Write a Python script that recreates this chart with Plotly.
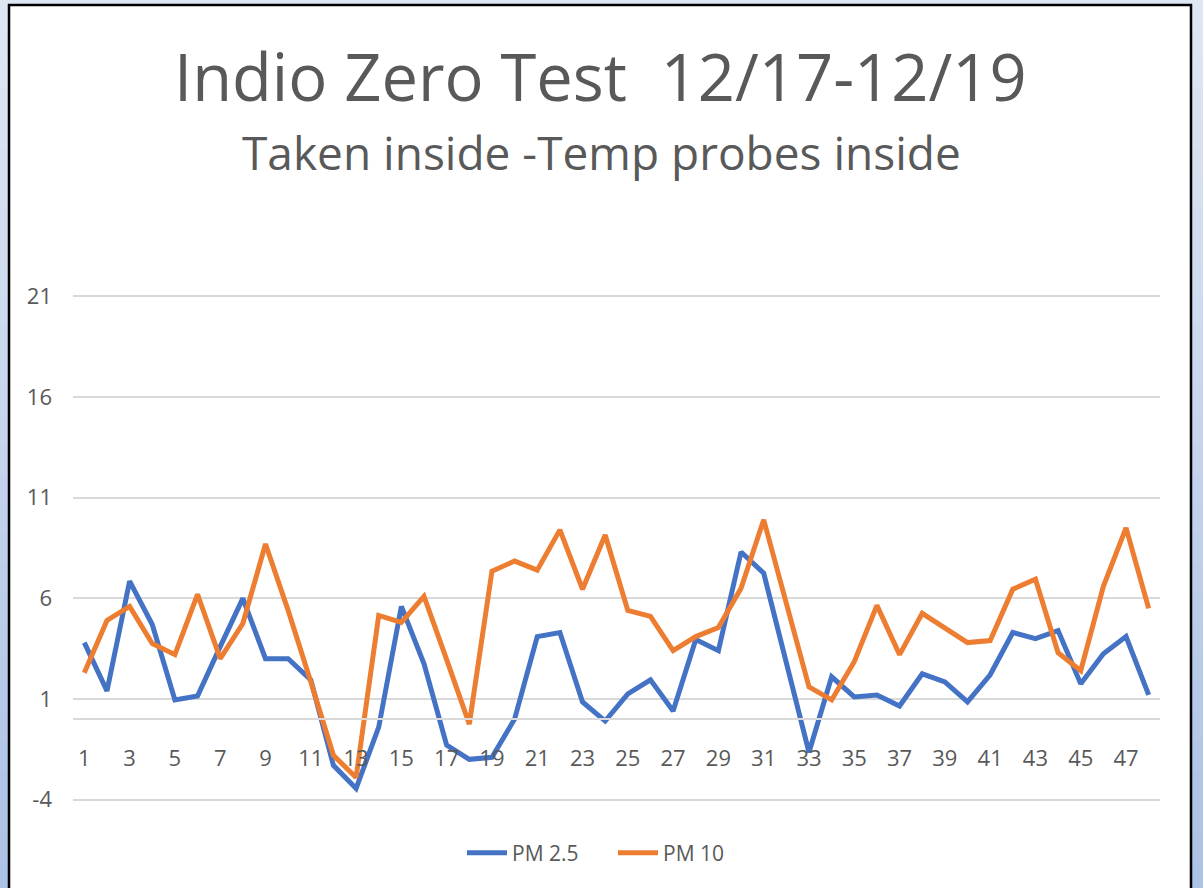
import plotly.graph_objects as go

# ---- data ----
hours = list(range(1, 49))
pm25 = [3.8, 1.4, 6.85, 4.7, 0.95, 1.15, 3.6, 6.0, 3.0, 3.0, 1.95, -2.3, -3.45, -0.4, 5.6, 2.75,
        -1.3, -2.0, -1.9, 0.0, 4.1, 4.3, 0.85, -0.1, 1.25, 1.95, 0.4, 3.95, 3.4, 8.3, 7.25, 2.8,
        -1.65, 2.1, 1.1, 1.2, 0.65, 2.25, 1.85, 0.85, 2.2, 4.3, 4.0, 4.4, 1.75, 3.25, 4.1, 1.2]
pm10 = [2.3, 4.9, 5.6, 3.75, 3.2, 6.2, 3.0, 4.75, 8.7, 5.4, 1.85, -1.8, -2.9, 5.15, 4.8, 6.1,
        2.95, -0.25, 7.35, 7.85, 7.4, 9.4, 6.45, 9.15, 5.4, 5.1, 3.4, 4.1, 4.55, 6.5, 9.9, 5.7,
        1.6, 0.95, 2.85, 5.65, 3.2, 5.25, 4.55, 3.8, 3.9, 6.45, 6.95, 3.3, 2.4, 6.6, 9.5, 5.5]
series_names = ["PM 2.5", "PM 10"]
y_ticks = [-4, 1, 6, 11, 16, 21]
x_ticks = list(range(1, 49, 2))
title_text = "Indio Zero Test  12/17-12/19"
subtitle_text = "Taken inside -Temp probes inside"

# ---- layout geometry ----
W, H = 1203, 888
PAD = 0.12  # small range padding so edge gridlines are drawn
Y_MIN, Y_MAX = -4 - PAD, 21 + PAD
PX_PER_UNIT = (800 - 296) / 25.0
TOP = 296 - PAD * PX_PER_UNIT
BOT = 800 + PAD * PX_PER_UNIT
ML, MR = 73, 43
MT, MB = round(TOP), round(H - BOT)
PW, PH = W - ML - MR, H - MT - MB


def px_x(px):
    return (px - ML) / PW


def px_y(py):
    return (H - MB - py) / PH


FONT = "Open Sans, Calibri, sans-serif"
GREY = "#595959"

fig = go.Figure()
fig.add_trace(go.Scatter(x=hours, y=pm25, mode="lines", name=series_names[0],
                         line=dict(color="#4472C4", width=5)))
fig.add_trace(go.Scatter(x=hours, y=pm10, mode="lines", name=series_names[1],
                         line=dict(color="#ED7D31", width=5)))

shapes = []
# gradient background
n = 30
top_rgb = (223, 230, 243)
bot_rgb = (172, 194, 230)
for i in range(n):
    t = i / (n - 1)
    c = tuple(round(top_rgb[k] + (bot_rgb[k] - top_rgb[k]) * t) for k in range(3))
    shapes.append(dict(type="rect", xref="paper", yref="paper", layer="below",
                       x0=px_x(0), x1=px_x(W), y0=px_y(H * (i + 1) / n + 1), y1=px_y(H * i / n),
                       fillcolor="rgb(%d,%d,%d)" % c, line=dict(width=0)))
# white chart frame
shapes.append(dict(type="rect", xref="paper", yref="paper", layer="below",
                   x0=px_x(9), x1=px_x(1191), y0=px_y(H + 20), y1=px_y(5),
                   fillcolor="white", line=dict(color="black", width=2.5)))

fig.update_layout(
    width=W, height=H,
    margin=dict(l=ML, r=MR, t=MT, b=MB),
    paper_bgcolor="rgb(223,230,243)",
    plot_bgcolor="rgba(0,0,0,0)",
    shapes=shapes,
    showlegend=True,
    legend=dict(orientation="h", x=px_x(462), xanchor="left", y=px_y(853), yanchor="middle",
                font=dict(family=FONT, size=21, color=GREY), bgcolor="rgba(0,0,0,0)",
                entrywidth=96, entrywidthmode="pixels", itemwidth=40),
    annotations=[
        dict(text=title_text, xref="paper", yref="paper", x=px_x(600), y=px_y(76),
             xanchor="center", yanchor="middle", showarrow=False,
             font=dict(family=FONT, size=65, color=GREY)),
        dict(text=subtitle_text, xref="paper", yref="paper", x=px_x(601), y=px_y(152),
             xanchor="center", yanchor="middle", showarrow=False,
             font=dict(family=FONT, size=46, color=GREY)),
    ],
    xaxis=dict(range=[0.5, 48.5], tickmode="array", tickvals=x_ticks,
               ticktext=[str(v) for v in x_ticks], showgrid=False, zeroline=False,
               anchor="free", position=(0 - Y_MIN) / (Y_MAX - Y_MIN),
               showline=True, linecolor="#d9d9d9", linewidth=1.5, ticks="",
               ticklabelstandoff=20,
               tickfont=dict(family=FONT, size=22, color=GREY)),
    yaxis=dict(range=[Y_MIN, Y_MAX], tickmode="array", tickvals=y_ticks,
               ticktext=[str(v) for v in y_ticks],
               showgrid=True, gridcolor="#d9d9d9", gridwidth=1.5, zeroline=False,
               showline=False, ticks="", ticklabelstandoff=20,
               tickfont=dict(family=FONT, size=22, color=GREY)),
)

fig.write_html("out.html", config={"displayModeBar": False},
               post_script="document.body.style.margin='0';")
